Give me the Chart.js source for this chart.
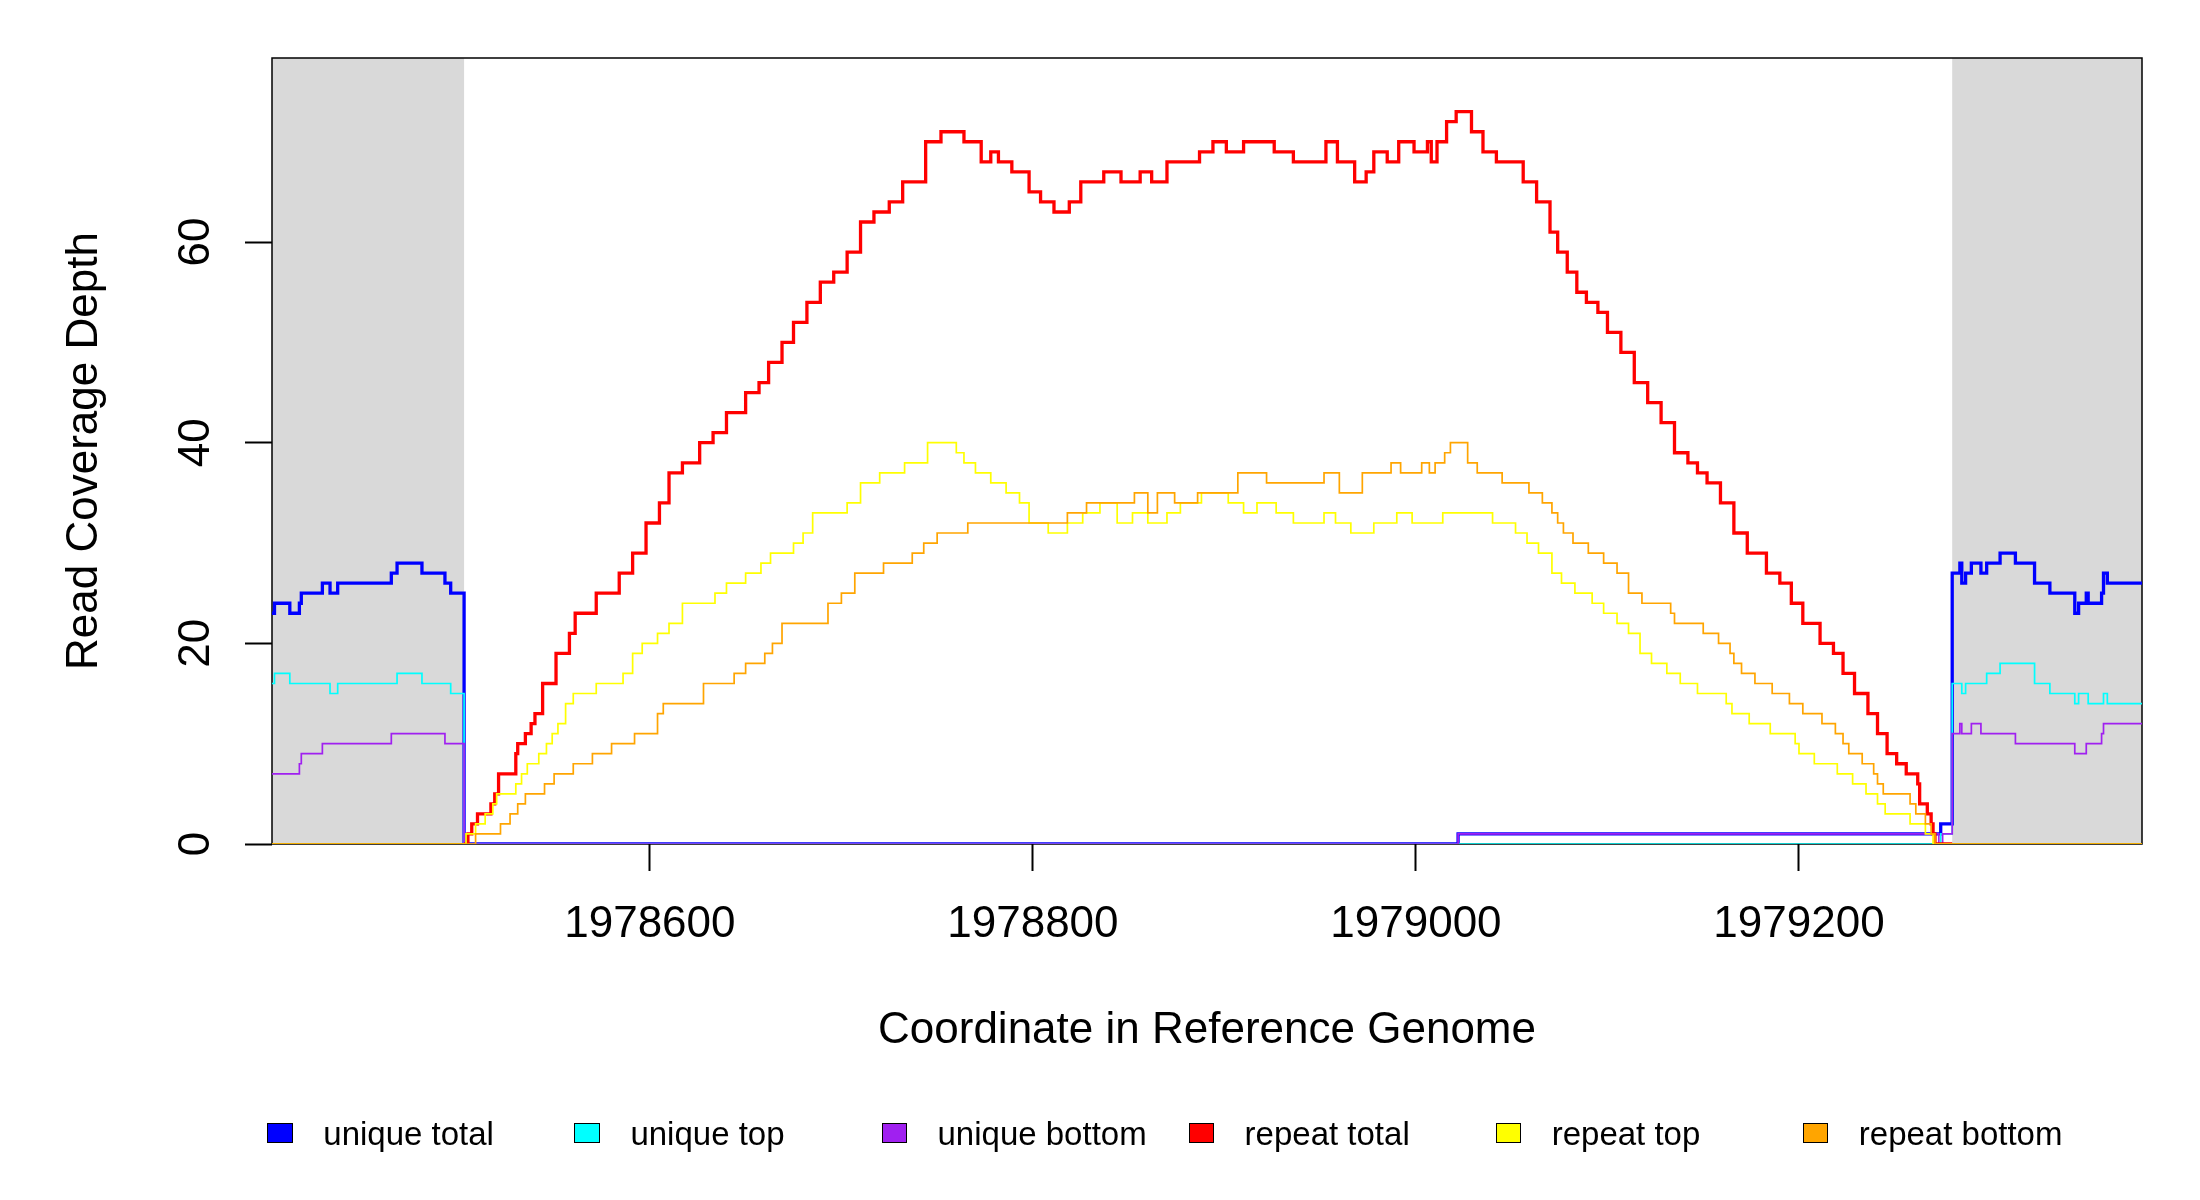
<!DOCTYPE html>
<html>
<head>
<meta charset="utf-8">
<title>Read Coverage Depth</title>
<script src="https://cdn.jsdelivr.net/npm/chart.js@4.4.1/dist/chart.umd.min.js"></script>
<style>
    html, body { margin: 0; padding: 0; background: #ffffff; }
    #wrap { position: relative; width: 2200px; height: 1200px; overflow: hidden; }
    #coverageChart { position: absolute; left: 0; top: 0; }
    .legend-item {
        position: absolute;
        top: 1117px;
        height: 33px;
        font-family: 'Liberation Sans', Arial, sans-serif;
        font-size: 33px;
        line-height: 33px;
        color: #000;
        white-space: nowrap;
    }
    .legend-box {
        position: absolute;
        left: 0;
        top: 5.7px;
        width: 25.4px;
        height: 20.6px;
        box-sizing: border-box;
        border: 1.3px solid #000;
    }
    .legend-label { position: absolute; left: 56px; top: 0; }
</style>
</head>
<body>
<div id="wrap">
    <canvas id="coverageChart" width="2200" height="1200"></canvas>
    <div id="legend"></div>
</div>
<script>
// axis ranges and ticks
const xRange = [1978402.7, 1979379.1];
const yRange = [0, 78.35];
const xTickValues = [1978600, 1978800, 1979000, 1979200];
const yTickValues = [0, 20, 40, 60];
const xTitle = 'Coordinate in Reference Genome';
const yTitle = 'Read Coverage Depth';

// shaded flanking regions (unique sequence either side of the repeat)
const flankRanges = [[1978402.7, 1978503], [1979280, 1979379.1]];

const seriesNames = ['unique total', 'unique top', 'unique bottom', 'repeat total', 'repeat top', 'repeat bottom'];
const seriesColors = ['#0000ff', '#00ffff', '#a020f0', '#ff0000', '#ffff00', '#ffa500'];

// each series: positions where the depth changes, and the depth from there on
const uniqueTotalPos = [1978402.7, 1978404, 1978412, 1978417, 1978418, 1978429, 1978433, 1978437, 1978465, 1978468,
    1978481, 1978493, 1978496, 1978503, 1979022, 1979274, 1979280, 1979284, 1979285, 1979287,
    1979290, 1979295, 1979298, 1979305, 1979313, 1979323, 1979331, 1979344, 1979346, 1979350,
    1979351, 1979358, 1979359, 1979361, 1979379.1];
const uniqueTotalVal = [23, 24, 23, 24, 25, 26, 25, 26, 27, 28,
    27, 26, 25, 0, 1, 2, 27, 28, 26, 27,
    28, 27, 28, 29, 28, 26, 25, 23, 24, 25,
    24, 25, 27, 26, 26];

const uniqueTopPos = [1978402.7, 1978404, 1978412, 1978433, 1978437, 1978468, 1978481, 1978496, 1978503, 1979274,
    1979280, 1979285, 1979287, 1979298, 1979305, 1979323, 1979331, 1979344, 1979346, 1979351,
    1979359, 1979361, 1979379.1];
const uniqueTopVal = [16, 17, 16, 15, 16, 17, 16, 15, 0, 1,
    16, 15, 16, 17, 18, 16, 15, 14, 15, 14,
    15, 14, 14];

const uniqueBottomPos = [1978402.7, 1978417, 1978418, 1978429, 1978465, 1978493, 1978503, 1979022, 1979273, 1979275,
    1979280, 1979284, 1979285, 1979290, 1979295, 1979313, 1979344, 1979350, 1979358, 1979359,
    1979379.1];
const uniqueBottomVal = [7, 8, 9, 10, 11, 10, 0, 1, 0, 1,
    11, 12, 11, 12, 11, 10, 9, 10, 11, 12,
    12];

// repeat total is only drawn across the repeat itself
const repeatTotalPos = [1978503, 1978505, 1978507, 1978510, 1978517, 1978519, 1978521, 1978530, 1978531,
    1978535, 1978538, 1978540, 1978544, 1978551, 1978558, 1978561, 1978572, 1978584, 1978591,
    1978598, 1978605, 1978610, 1978617, 1978626, 1978633, 1978640, 1978650, 1978657, 1978662,
    1978669, 1978675, 1978682, 1978689, 1978696, 1978703, 1978710, 1978717, 1978725, 1978732,
    1978744, 1978752, 1978764, 1978773, 1978778, 1978782, 1978789, 1978798, 1978804, 1978811,
    1978819, 1978825, 1978837, 1978846, 1978856, 1978862, 1978870, 1978887, 1978894, 1978901,
    1978910, 1978926, 1978936, 1978953, 1978959, 1978968, 1978974, 1978978, 1978985, 1978991,
    1978999, 1979006, 1979008, 1979011, 1979016, 1979021, 1979029, 1979035, 1979042, 1979056,
    1979063, 1979070, 1979074, 1979079, 1979084, 1979089, 1979095, 1979100, 1979107, 1979114,
    1979121, 1979128, 1979135, 1979142, 1979147, 1979152, 1979159, 1979166, 1979173, 1979183,
    1979190, 1979196, 1979202, 1979211, 1979218, 1979223, 1979229, 1979236, 1979241, 1979246,
    1979251, 1979256, 1979262, 1979263, 1979267, 1979269, 1979270, 1979271, 1979280];
const repeatTotalVal = [0, 1, 2, 3, 4, 5, 7, 9, 10,
    11, 12, 13, 16, 19, 21, 23, 25, 27, 29,
    32, 34, 37, 38, 40, 41, 43, 45, 46, 48,
    50, 52, 54, 56, 57, 59, 62, 63, 64, 66,
    70, 71, 70, 68, 69, 68, 67, 65, 64, 63,
    64, 66, 67, 66, 67, 66, 68, 69, 70, 69,
    70, 69, 68, 70, 68, 66, 67, 69, 68, 70,
    69, 70, 68, 70, 72, 73, 71, 69, 68, 66,
    64, 61, 59, 57, 55, 54, 53, 51, 49, 46,
    44, 42, 39, 38, 37, 36, 34, 31, 29, 27,
    26, 24, 22, 20, 19, 17, 15, 13, 11, 9,
    8, 7, 6, 4, 3, 2, 1, 0, 0];

const repeatTopPos = [1978402.7, 1978503, 1978504, 1978509, 1978514, 1978518, 1978520, 1978530, 1978533, 1978536,
    1978542, 1978546, 1978549, 1978552, 1978556, 1978560, 1978572, 1978586, 1978591, 1978596,
    1978604, 1978610, 1978617, 1978634, 1978640, 1978650, 1978658, 1978663, 1978675, 1978680,
    1978685, 1978703, 1978710, 1978720, 1978733, 1978745, 1978760, 1978764, 1978770, 1978778,
    1978786, 1978793, 1978798, 1978808, 1978818, 1978826, 1978835, 1978844, 1978852, 1978860,
    1978870, 1978877, 1978888, 1978902, 1978910, 1978917, 1978927, 1978936, 1978952, 1978958,
    1978966, 1978978, 1978990, 1978998, 1979014, 1979040, 1979052, 1979058, 1979064, 1979071,
    1979076, 1979083, 1979092, 1979098, 1979105, 1979111, 1979117, 1979123, 1979131, 1979138,
    1979147, 1979162, 1979165, 1979174, 1979185, 1979198, 1979200, 1979208, 1979220, 1979228,
    1979235, 1979241, 1979245, 1979258, 1979266, 1979270, 1979379.1];
const repeatTopVal = [0, 0, 1, 2, 3, 4, 5, 6, 7, 8,
    9, 10, 11, 12, 14, 15, 16, 17, 19, 20,
    21, 22, 24, 25, 26, 27, 28, 29, 30, 31,
    33, 34, 36, 37, 38, 40, 39, 38, 37, 36,
    35, 34, 32, 31, 32, 33, 34, 32, 33, 32,
    33, 34, 35, 34, 33, 34, 33, 32, 33, 32,
    31, 32, 33, 32, 33, 32, 31, 30, 29, 27,
    26, 25, 24, 23, 22, 21, 19, 18, 17, 16,
    15, 14, 13, 12, 11, 10, 9, 8, 7, 6,
    5, 4, 3, 2, 1, 0, 0];

const repeatBottomPos = [1978402.7, 1978503, 1978509, 1978522, 1978527, 1978531, 1978535, 1978545, 1978550, 1978560,
    1978570, 1978580, 1978592, 1978604, 1978607, 1978628, 1978644, 1978650, 1978660, 1978664,
    1978669, 1978693, 1978700, 1978707, 1978722, 1978737, 1978743, 1978750, 1978766, 1978818,
    1978828, 1978853, 1978860, 1978865, 1978874, 1978886, 1978907, 1978922, 1978952, 1978960,
    1978972, 1978987, 1978992, 1979003, 1979007, 1979010, 1979015, 1979018, 1979027, 1979032,
    1979045, 1979059, 1979066, 1979071, 1979074, 1979077, 1979082, 1979090, 1979098, 1979105,
    1979111, 1979118, 1979133, 1979135, 1979150, 1979158, 1979164, 1979166, 1979170, 1979177,
    1979186, 1979195, 1979202, 1979212, 1979219, 1979223, 1979226, 1979233, 1979239, 1979241,
    1979244, 1979258, 1979261, 1979266, 1979269, 1979271, 1979379.1];
const repeatBottomVal = [0, 0, 1, 2, 3, 4, 5, 6, 7, 8,
    9, 10, 11, 13, 14, 16, 17, 18, 19, 20,
    22, 24, 25, 27, 28, 29, 30, 31, 32, 33,
    34, 35, 33, 35, 34, 35, 37, 36, 37, 35,
    37, 38, 37, 38, 37, 38, 39, 40, 38, 37,
    36, 35, 34, 33, 32, 31, 30, 29, 28, 27,
    25, 24, 23, 22, 21, 20, 19, 18, 17, 16,
    15, 14, 13, 12, 11, 10, 9, 8, 7, 6,
    5, 4, 3, 2, 1, 0, 0];

const seriesPos = [uniqueTotalPos, uniqueTopPos, uniqueBottomPos, repeatTotalPos, repeatTopPos, repeatBottomPos];
const seriesVal = [uniqueTotalVal, uniqueTopVal, uniqueBottomVal, repeatTotalVal, repeatTopVal, repeatBottomVal];
const thickSeries = ['unique total', 'repeat total'];

const FONT_FAMILY = "'Liberation Sans', Arial, sans-serif";
Chart.defaults.font.family = FONT_FAMILY;
Chart.defaults.color = '#000000';

// grey flanks + frame under the lines, rotated y tick labels on top
const coverageDecor = {
    id: 'coverageDecor',
    beforeDatasetsDraw(chart) {
        const { ctx, chartArea: a, scales: { x } } = chart;
        ctx.save();
        ctx.fillStyle = '#d9d9d9';
        flankRanges.forEach(([from, to]) => {
            const x0 = x.getPixelForValue(from);
            const x1 = x.getPixelForValue(to);
            ctx.fillRect(x0, a.top, x1 - x0, a.bottom - a.top);
        });
        ctx.strokeStyle = '#000000';
        ctx.lineWidth = 1.5;
        ctx.strokeRect(a.left, a.top, a.right - a.left, a.bottom - a.top);
        ctx.restore();
    },
    afterDraw(chart) {
        const { ctx, scales: { y } } = chart;
        ctx.save();
        ctx.fillStyle = '#000000';
        ctx.font = '44px ' + FONT_FAMILY;
        ctx.textAlign = 'center';
        ctx.textBaseline = 'alphabetic';
        yTickValues.forEach(v => {
            ctx.save();
            ctx.translate(209, y.getPixelForValue(v));
            ctx.rotate(-Math.PI / 2);
            ctx.fillText(String(v), 0, 0);
            ctx.restore();
        });
        ctx.restore();
    }
};

const datasets = seriesNames.map((name, i) => ({
    label: name,
    data: seriesPos[i].map((p, k) => ({ x: p, y: seriesVal[i][k] })),
    borderColor: seriesColors[i],
    backgroundColor: seriesColors[i],
    borderWidth: thickSeries.includes(name) ? 3.3 : 1.7,
    stepped: 'before',
    pointRadius: 0,
    fill: false,
    order: seriesNames.length - i
}));

const canvas = document.getElementById('coverageChart');
new Chart(canvas.getContext('2d'), {
    type: 'line',
    data: { datasets: datasets },
    options: {
        responsive: false,
        animation: false,
        devicePixelRatio: 1,
        events: [],
        layout: { padding: { top: 58, right: 58, bottom: 143, left: 0 } },
        plugins: {
            legend: { display: false },
            tooltip: { enabled: false }
        },
        scales: {
            x: {
                type: 'linear',
                min: xRange[0],
                max: xRange[1],
                afterBuildTicks: scale => { scale.ticks = xTickValues.map(v => ({ value: v })); },
                afterFit: scale => { scale.height = 213; },
                ticks: {
                    autoSkip: false,
                    maxRotation: 0,
                    padding: 27,
                    color: '#000000',
                    font: { size: 44 },
                    callback: v => String(v)
                },
                grid: { drawOnChartArea: false, tickLength: 27, tickColor: '#000000', tickWidth: 2 },
                border: { display: false },
                title: {
                    display: true,
                    text: xTitle,
                    color: '#000000',
                    font: { size: 44 },
                    padding: { top: 0, bottom: 0 }
                }
            },
            y: {
                type: 'linear',
                min: yRange[0],
                max: yRange[1],
                afterBuildTicks: scale => { scale.ticks = yTickValues.map(v => ({ value: v })); },
                afterFit: scale => { scale.width = 272; },
                ticks: { display: false },
                grid: { drawOnChartArea: false, tickLength: 27, tickColor: '#000000', tickWidth: 2 },
                border: { display: false },
                title: {
                    display: true,
                    text: yTitle,
                    color: '#000000',
                    font: { size: 44 },
                    padding: { top: 58, bottom: 0 }
                }
            }
        }
    },
    plugins: [coverageDecor]
});

// legend row under the plot, evenly spaced like the original
const legendEl = document.getElementById('legend');
seriesNames.forEach((name, i) => {
    const item = document.createElement('div');
    item.className = 'legend-item';
    item.style.left = (267.3 + i * 307.1) + 'px';
    const box = document.createElement('span');
    box.className = 'legend-box';
    box.style.background = seriesColors[i];
    const label = document.createElement('span');
    label.className = 'legend-label';
    label.textContent = name;
    item.appendChild(box);
    item.appendChild(label);
    legendEl.appendChild(item);
});
</script>
</body>
</html>
